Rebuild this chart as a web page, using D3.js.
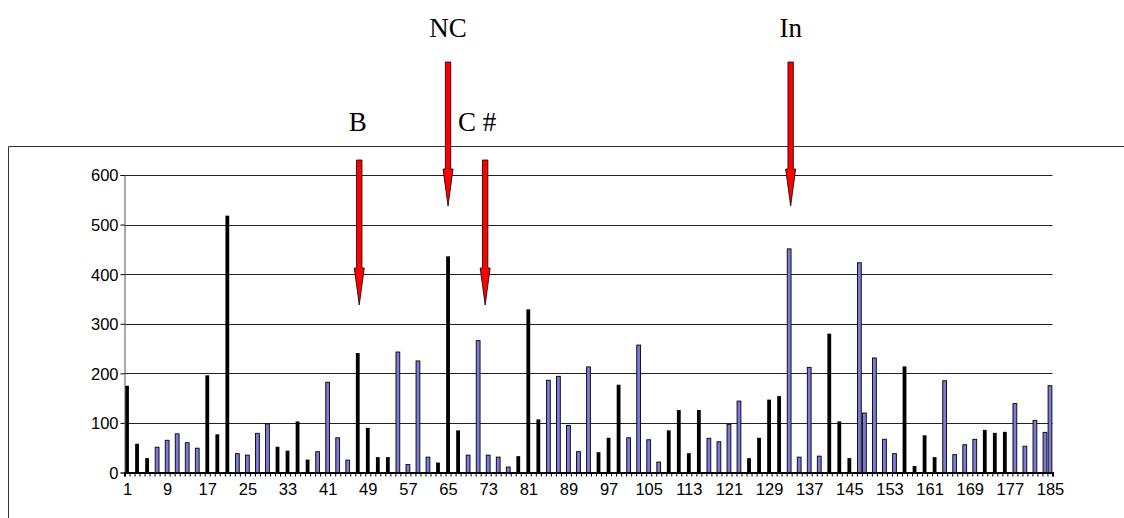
<!DOCTYPE html>
<html>
<head>
<meta charset="utf-8">
<script src="https://cdn.jsdelivr.net/npm/d3@7/dist/d3.min.js"></script>
<style>
  body { margin: 0; background: #fff; }
  svg { display: block; }
  .axis text { font-family: "Liberation Sans", Arial, sans-serif; font-size: 16.5px; fill: #000; }
  .note { font-family: "Liberation Serif", "Times New Roman", serif; font-size: 27px; fill: #000; }
</style>
</head>
<body>
<div id="chart"></div>
<script>
// bar positions (category index), values and series (k = black, b = blue)
var barCats = [1,3,5,7,9,11,13,15,17,19,21,23,25,27,29,31,33,35,37,39,41,43,45,47,49,51,53,55,57,59,61,63,65,67,69,71,73,75,77,79,81,83,85,87,89,91,93,95,97,99,101,103,105,107,109,111,113,115,117,119,121,123,125,127,129,131,133,135,137,139,141,143,145,147,148,150,152,154,156,158,160,162,164,166,168,170,172,174,176,178,180,182,184,185];
var barValues = [175,58,29,51,65,78,60,49,196,77,518,38,35,79,98,52,44,103,26,42,182,70,25,241,90,31,31,243,16,225,31,20,436,85,35,266,35,31,11,33,329,107,186,194,95,42,213,41,70,177,70,257,66,21,85,126,39,126,69,62,97,144,29,70,147,154,451,31,212,33,280,103,29,423,120,231,67,38,214,13,75,31,185,36,56,67,86,80,82,139,53,105,81,175];
var barSeries = ["k","k","k","b","b","b","b","b","k","k","k","b","b","b","b","k","k","k","k","b","b","b","b","k","k","k","k","b","b","b","b","k","k","k","b","b","b","b","b","k","k","k","b","b","b","b","b","k","k","k","b","b","b","b","k","k","k","k","b","b","b","b","k","k","k","k","b","b","b","b","k","k","k","b","b","b","b","b","k","k","k","k","b","b","b","b","k","k","k","b","b","b","b","b"];

var yTicks = [0,100,200,300,400,500,600];
var xLabels = [1,9,17,25,33,41,49,57,65,73,81,89,97,105,113,121,129,137,145,153,161,169,177,185];

// annotations: label, category the arrow points at, label position, arrow top and tip (px)
var notes = [
  {text: "B",   cat: 47.3,  labelX: 47.0,  labelY: 131, top: 160, tip: 305},
  {text: "NC",  cat: 65.0,  labelX: 65.0,  labelY: 37,  top: 62,  tip: 206},
  {text: "C #", cat: 72.4,  labelX: 70.8,  labelY: 131, top: 160, tip: 305},
  {text: "In",  cat: 133.3, labelX: 133.3, labelY: 37,  top: 62,  tip: 206}
];

var W = 1124, H = 518;
var svg = d3.select("#chart").append("svg").attr("width", W).attr("height", H);

// chart area frame
svg.append("path")
  .attr("d", "M8.5," + H + "V146.5H" + W)
  .attr("fill", "none").attr("stroke", "#333").attr("stroke-width", 1);

var x = d3.scaleLinear().domain([0.5, 185.5]).range([124.5, 1052.5]);
var y = d3.scaleLinear().domain([0, 600]).range([472.5, 175]);

// gridlines
svg.append("g").selectAll("line")
  .data(yTicks.slice(1))
  .enter().append("line")
  .attr("x1", x(0.5)).attr("x2", x(185.5))
  .attr("y1", function (d) { return Math.round(y(d)) + 0.5; })
  .attr("y2", function (d) { return Math.round(y(d)) + 0.5; })
  .attr("stroke", "#222").attr("stroke-width", 1);

// bars
var bw = 3.8;
var bars = barCats.map(function (c, i) { return {cat: c, v: barValues[i], s: barSeries[i]}; });
svg.append("g").selectAll("rect")
  .data(bars)
  .enter().append("rect")
  .attr("x", function (d) { return x(d.cat) - bw / 2; })
  .attr("y", function (d) { return y(d.v); })
  .attr("width", bw)
  .attr("height", function (d) { return y(0) - y(d.v); })
  .attr("fill", function (d) { return d.s === "k" ? "#000" : "#7b7bd8"; })
  .attr("stroke", "#000")
  .attr("stroke-width", function (d) { return d.s === "k" ? 0 : 0.9; });

// y axis
var yAxis = svg.append("g").attr("class", "axis")
  .attr("transform", "translate(124.5,0)")
  .call(d3.axisLeft(y).tickValues(yTicks).tickSize(4).tickPadding(2));
yAxis.selectAll("line").attr("stroke", "#000");
yAxis.select(".domain").attr("stroke", "#555");
yAxis.selectAll("text").attr("dy", "0.36em");

// x axis: ticks at every category boundary
var boundaries = d3.range(0, 186).map(function (i) { return i + 0.5; });
var xTickAxis = svg.append("g")
  .attr("transform", "translate(0,472.5)")
  .call(d3.axisBottom(x).tickValues(boundaries).tickSize(4).tickFormat(""));
xTickAxis.selectAll("line").attr("stroke", "#000");
xTickAxis.select(".domain").attr("stroke", "#000").attr("stroke-width", 2);

var xLabelAxis = svg.append("g").attr("class", "axis")
  .attr("transform", "translate(0,472.5)")
  .call(d3.axisBottom(x).tickValues(xLabels).tickSize(0).tickPadding(11).tickFormat(d3.format("d")));
xLabelAxis.select(".domain").remove();

// arrows
function arrowPath(cx, top, tip) {
  var sw = 2.7, hw = 5, headStart = tip - 37;
  return "M" + (cx - sw) + "," + top + "H" + (cx + sw) + "V" + headStart +
    "H" + (cx + hw) + "L" + cx + "," + tip + "L" + (cx - hw) + "," + headStart +
    "H" + (cx - sw) + "Z";
}
svg.append("g").selectAll("path")
  .data(notes)
  .enter().append("path")
  .attr("d", function (d) { return arrowPath(x(d.cat), d.top, d.tip); })
  .attr("fill", "#ff0000").attr("stroke", "#000").attr("stroke-width", 0.8);

svg.append("g").selectAll("text")
  .data(notes)
  .enter().append("text")
  .attr("class", "note")
  .attr("x", function (d) { return x(d.labelX); })
  .attr("y", function (d) { return d.labelY; })
  .attr("text-anchor", "middle")
  .text(function (d) { return d.text; });
</script>
</body>
</html>
